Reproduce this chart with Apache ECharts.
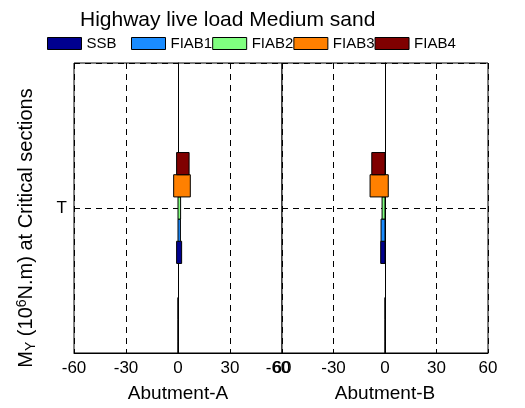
<!DOCTYPE html>
<html>
<head>
<meta charset="utf-8">
<script src="https://cdn.jsdelivr.net/npm/echarts@6/dist/echarts.min.js"></script>
<style>
  html, body { margin: 0; padding: 0; background: #fff; }
  #chart { width: 525px; height: 408px; }
</style>
</head>
<body>
<div id="chart"></div>
<script>
// sections on the y axis: 0 = bottom (B), 1 = top (T)
const yTickLabels = ["", "T", ""];
const seriesNames = ["SSB", "FIAB1", "FIAB2", "FIAB3", "FIAB4"];
const panelNames = ["Abutment-A", "Abutment-B"];

// moment ranges (low, high) at each section, one entry per series
const aLowB = [0, 0, 0, 0, 0];
const aHighB = [0, 0, 0, 0, 0];
const aLowT = [-0.8, 0, 0, -2.5, -0.8];
const aHighT = [2.1, 1.4, 1.5, 7.1, 6.4];

const bLowB = [0, 0, 0, 0, 0];
const bHighB = [0, 0, 0, 0, 0];
const bLowT = [-2.5, -2.3, -1.7, -8.7, -7.7];
const bHighT = [0, 0, 0, 1.9, 0];

const colors = ["#00008f", "#1a8cff", "#80ff80", "#ff8000", "#800000"];
const barH = 0.153;
const font = "Liberation Sans";

const chart = echarts.init(document.getElementById("chart"), null, { renderer: "canvas" });

function renderItem(params, api) {
  const i = params.seriesIndex % 5;
  const yc = api.value(0) + (i - 2) * barH;
  const lo = api.coord([api.value(1), yc + barH / 2]);
  const hi = api.coord([api.value(2), yc - barH / 2]);
  const cs = params.coordSys;
  const x1 = Math.max(lo[0], cs.x), x2 = Math.min(hi[0], cs.x + cs.width);
  const y1 = Math.max(lo[1], cs.y), y2 = Math.min(hi[1], cs.y + cs.height);
  if (y2 < y1) return;
  return {
    type: "rect",
    shape: { x: x1, y: y1, width: x2 - x1, height: y2 - y1 },
    style: api.style({ stroke: "#000", lineWidth: 1 }),
  };
}

function makeSeries(panel, lowB, highB, lowT, highT) {
  return seriesNames.map((name, i) => ({
    name,
    type: "custom",
    xAxisIndex: panel,
    yAxisIndex: panel,
    renderItem,
    silent: true,
    itemStyle: { color: colors[i], borderColor: "#000", borderWidth: 1 },
    encode: { x: [1, 2], y: 0 },
    data: [[0, lowB[i], highB[i]], [1, lowT[i], highT[i]]],
  }));
}

const dashed = { show: true, lineStyle: { color: "#000", type: [6, 5], width: 1 } };

function xAxis(panel) {
  return {
    type: "value",
    gridIndex: panel,
    min: -60,
    max: 60,
    interval: 30,
    name: panelNames[panel],
    nameLocation: "middle",
    nameGap: 31,
    nameTextStyle: { color: "#000", fontSize: 19, fontFamily: font },
    axisLine: { show: true, lineStyle: { color: "#000", width: 1 } },
    axisTick: { show: true, inside: true, length: 4, lineStyle: { color: "#000" } },
    axisLabel: {
      color: "#000",
      fontSize: 17,
      fontFamily: font,
      margin: 7,
      showMinLabel: true,
      showMaxLabel: true,
      // right panel's -60 sits over the left panel's 60
      formatter: (v) => (panel === 1 && v === -60 ? "{m|-60}" : String(v)),
      rich: { m: { color: "#000", fontSize: 17, fontFamily: font, padding: [0, 8, 0, 0] } },
    },
    splitLine: dashed,
  };
}

function yAxis(panel) {
  return {
    type: "value",
    gridIndex: panel,
    min: 0,
    max: 2,
    interval: 1,
    name: panel === 0 ? "{t|M}{sub|Y}{t| (10}{sup|6}{t|N.m) at Critical sections}" : "",
    nameLocation: "middle",
    nameRotate: 90,
    nameGap: 36,
    nameTextStyle: {
      padding: [0, 40, 0, 0],
      rich: {
        t: { color: "#000", fontSize: 20, fontFamily: font },
        sub: { color: "#000", fontSize: 14, fontFamily: font, padding: [9, 0, 0, 0] },
        sup: { color: "#000", fontSize: 14, fontFamily: font, padding: [0, 0, 9, 0] },
      },
    },
    axisLine: { show: true, lineStyle: { color: "#000", width: 1 } },
    axisTick: { show: false },
    axisLabel: {
      show: panel === 0,
      color: "#000",
      fontSize: 17,
      fontFamily: font,
      margin: 7,
      formatter: (v) => yTickLabels[v] || "",
    },
    splitLine: dashed,
  };
}

const legendBase = {
  top: 36,
  padding: 0,
  itemWidth: 34,
  itemHeight: 12,
  itemGap: 0,
  icon: "rect",
  selectedMode: false,
  itemStyle: { borderColor: "#000", borderWidth: 1 },
  textStyle: { color: "#000", fontSize: 15, fontFamily: font },
};

chart.setOption({
  animation: false,
  backgroundColor: "#fff",
  title: {
    text: "Highway live load Medium sand",
    left: 80,
    top: 10,
    padding: 0,
    textStyle: { color: "#000", fontSize: 21, fontWeight: "normal", fontFamily: font },
  },
  // SSB keeps the same slot width as the longer names
  legend: [
    { ...legendBase, data: seriesNames.slice(0, 1), left: 47 },
    { ...legendBase, data: seriesNames.slice(1), left: 131 },
  ],
  grid: [
    { left: 74, top: 63, width: 208, height: 296, show: true, borderColor: "#000", borderWidth: 1, backgroundColor: "#fff" },
    { left: 282, top: 63, width: 206, height: 296, show: true, borderColor: "#000", borderWidth: 1, backgroundColor: "#fff" },
  ],
  xAxis: [xAxis(0), xAxis(1)],
  yAxis: [yAxis(0), yAxis(1)],
  series: [
    ...makeSeries(0, aLowB, aHighB, aLowT, aHighT),
    ...makeSeries(1, bLowB, bHighB, bLowT, bHighT),
  ],
});
</script>
</body>
</html>
